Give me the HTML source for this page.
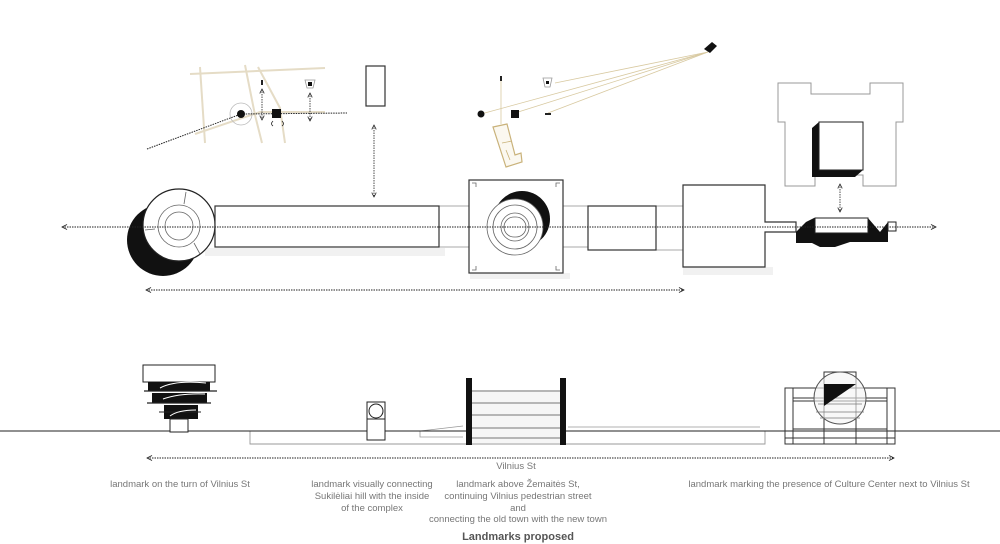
<!DOCTYPE html>
<html><head><meta charset="utf-8"><style>
html,body{margin:0;padding:0;background:#fff;}
svg{display:block;}
text{font-family:"Liberation Sans",sans-serif;fill:#777;font-size:9.5px;}
</style></head><body>
<svg width="1000" height="544" viewBox="0 0 1000 544" xmlns="http://www.w3.org/2000/svg">
<defs>
<marker id="a" viewBox="0 0 10 10" refX="9" refY="5" markerWidth="7" markerHeight="7" orient="auto-start-reverse"><path d="M1 1 L9 5 L1 9" fill="none" stroke="#222" stroke-width="1.4"/></marker>
</defs>

<!-- top-left map sketch -->
<g stroke="#e5dcc6" stroke-width="2" fill="none">
<path d="M190 74 L325 68"/><path d="M200 67 L205 143"/><path d="M245 65 L255 115 L262 143"/>
<path d="M258 67 L280 108 L285 143"/><path d="M195 134 L260 112 L325 112"/>
</g>
<circle cx="241" cy="114" r="11" fill="none" stroke="#bbb" stroke-width="0.8"/>
<path d="M147 149 L241 114 L347 113" stroke="#222" stroke-width="1" stroke-dasharray="1.5 1" fill="none"/>
<circle cx="241" cy="114" r="4" fill="#111"/>
<rect x="272" y="109" width="9" height="9" fill="#111"/>
<path d="M262 80 L262 85" stroke="#222" stroke-width="2"/>
<path d="M262 89 L262 120" stroke="#222" stroke-width="0.8" stroke-dasharray="1.5 1" marker-start="url(#a)" marker-end="url(#a)"/>
<path d="M310 93 L310 121" stroke="#222" stroke-width="0.8" stroke-dasharray="1.5 1" marker-start="url(#a)" marker-end="url(#a)"/>
<path d="M305 80 L315 80 L313 88 L307 88 Z" fill="#fff" stroke="#999" stroke-width="0.8"/>
<rect x="308" y="82" width="4" height="4" fill="#111"/>
<path d="M273 121 Q270 124 273 126 M282 121 Q285 124 282 126" stroke="#222" fill="none" stroke-width="0.8"/>
<rect x="366" y="66" width="19" height="40" fill="#fff" stroke="#333" stroke-width="1.2"/>

<!-- top-middle sightlines -->
<g stroke="#d8c9a0" stroke-width="0.8" fill="none">
<path d="M481 114 L708 52"/><path d="M515 113 L708 52"/><path d="M548 113 L708 52"/><path d="M555 83 L708 52"/>
<path d="M501 80 L501 124"/>
</g>
<path d="M704 49 L712 42 L717 46 L710 53 Z" fill="#111"/>
<path d="M501 76 L501 81" stroke="#222" stroke-width="2"/>
<circle cx="481" cy="114" r="3.5" fill="#111"/>
<rect x="511" y="110" width="8" height="8" fill="#111"/>
<path d="M545 114 L551 114" stroke="#222" stroke-width="2"/>
<path d="M543 78 L552 78 L550 87 L545 87 Z" fill="#fff" stroke="#999" stroke-width="0.8"/>
<rect x="546" y="81" width="3" height="3" fill="#111"/>
<path d="M493 127 L507 124 L515 155 L521 153 L522 162 L506 167 Z" fill="#fbf8f0" stroke="#c9b27a" stroke-width="1.2"/>
<path d="M502 143 L512 141 M506 150 L510 160" stroke="#c9b27a" stroke-width="0.8"/>

<!-- right building plan -->
<path d="M778 83 L811 83 L811 94 L870 94 L870 83 L903 83 L903 122 L896 122 L896 186 L863 186 L863 175 L815 175 L815 186 L785 186 L785 122 L778 122 Z" fill="#fff" stroke="#999" stroke-width="1"/>
<path d="M819 122 L812 128 L812 177 L855 177 L863 170 L863 122 Z" fill="#111"/>
<rect x="819" y="122" width="44" height="48" fill="#fff" stroke="#222" stroke-width="1"/>
<path d="M840 184 L840 212" stroke="#222" stroke-width="0.8" stroke-dasharray="1.5 1" marker-start="url(#a)" marker-end="url(#a)"/>
<path d="M374 125 L374 197" stroke="#222" stroke-width="0.8" stroke-dasharray="1.5 1" marker-start="url(#a)" marker-end="url(#a)"/>

<!-- plan row -->
<g fill="#f1f1f1"><rect x="205" y="248" width="240" height="8"/><rect x="470" y="273" width="100" height="6"/><rect x="683" y="267" width="90" height="8"/></g>
<path d="M439 206 L469 206 M439 247 L469 247 M563 206 L588 206 M563 247 L588 247 M656 206 L683 206 M656 250 L683 250" stroke="#aaa" stroke-width="1"/>
<circle cx="163" cy="240" r="36" fill="#111"/>
<circle cx="179" cy="225" r="36" fill="#fff" stroke="#222" stroke-width="1.2"/>
<circle cx="179" cy="226" r="21" fill="none" stroke="#666" stroke-width="0.8"/>
<circle cx="179" cy="226" r="14" fill="none" stroke="#666" stroke-width="0.8"/>
<path d="M186 192 L184 204 M155 229 L145 230 M194 243 L200 254" stroke="#666" stroke-width="0.8"/>
<rect x="215" y="206" width="224" height="41" fill="#fff" stroke="#333" stroke-width="1.2"/>
<rect x="469" y="180" width="94" height="93" fill="#fff" stroke="#333" stroke-width="1.2"/>
<path d="M472 183 h4 v4 M560 183 h-4 v4 M472 270 h4 v-4 M560 270 h-4 v-4" stroke="#666" fill="none" stroke-width="0.8"/>
<circle cx="522" cy="219" r="28" fill="#111"/>
<circle cx="515" cy="227" r="28" fill="#fff" stroke="#666" stroke-width="0.8"/>
<circle cx="515" cy="227" r="22" fill="none" stroke="#666" stroke-width="0.8"/>
<circle cx="515" cy="227" r="14" fill="none" stroke="#666" stroke-width="0.8"/>
<rect x="504" y="217" width="22" height="20" rx="10" fill="none" stroke="#666" stroke-width="0.8"/>
<rect x="588" y="206" width="68" height="44" fill="#fff" stroke="#333" stroke-width="1.2"/>
<path d="M683 185 L765 185 L765 222 L796 222 L796 232 L765 232 L765 267 L683 267 Z" fill="#fff" stroke="#333" stroke-width="1.2"/>
<path d="M796 232 L806 222 L814 218 L868 218 L880 232 L888 222 L888 242 L850 242 L835 247 L820 247 L812 243 L796 243 Z" fill="#111"/>
<rect x="815" y="218" width="53" height="15" fill="#fff" stroke="#222" stroke-width="1"/>
<rect x="888" y="222" width="8" height="9" fill="#fff" stroke="#222" stroke-width="1"/>
<path d="M62 227 L936 227" stroke="#222" stroke-width="0.9" stroke-dasharray="1.5 1" marker-start="url(#a)" marker-end="url(#a)"/>
<path d="M146 290 L684 290" stroke="#222" stroke-width="0.9" stroke-dasharray="1.5 1" marker-start="url(#a)" marker-end="url(#a)"/>

<!-- section -->
<path d="M250 431 L250 444 L765 444 L765 431" fill="none" stroke="#999" stroke-width="0.9"/>
<path d="M420 431 L420 437 L463 437 M420 431 L463 426 M568 427 L760 427" fill="none" stroke="#999" stroke-width="0.8"/>
<path d="M0 431 L1000 431" stroke="#222" stroke-width="1"/>
<rect x="143" y="365" width="72" height="17" fill="#fff" stroke="#222" stroke-width="1"/>
<rect x="148" y="382" width="62" height="9" fill="#111"/>
<path d="M144 391 L217 391" stroke="#222" stroke-width="1.2"/>
<rect x="152" y="393" width="55" height="10" fill="#111"/>
<path d="M147 403 L211 403" stroke="#222" stroke-width="1.2"/>
<rect x="164" y="405" width="34" height="14" fill="#111"/>
<path d="M159 412 L201 412" stroke="#222" stroke-width="1"/>
<path d="M160 388 Q175 380 206 383 M163 399 Q180 393 205 394 M170 416 Q178 410 196 410" stroke="#fff" stroke-width="1" fill="none"/>
<rect x="170" y="419" width="18" height="13" fill="#fff" stroke="#222" stroke-width="1"/>
<rect x="367" y="402" width="18" height="38" fill="#fff" stroke="#222" stroke-width="1"/>
<path d="M367 419 L385 419" stroke="#222" stroke-width="1"/>
<circle cx="376" cy="411" r="7" fill="#fff" stroke="#222" stroke-width="1"/>
<rect x="469" y="390" width="92" height="53" fill="#f6f6f6"/>
<g stroke="#777" stroke-width="1"><path d="M469 391 L561 391 M469 403 L561 403 M469 415 L561 415 M469 428 L561 428 M469 438 L561 438"/></g>
<rect x="466" y="378" width="6" height="67" fill="#111"/>
<rect x="560" y="378" width="6" height="67" fill="#111"/>
<g fill="none" stroke="#333" stroke-width="1">
<rect x="785" y="388" width="110" height="56"/>
<rect x="785" y="388" width="8" height="56"/><rect x="887" y="388" width="8" height="56"/>
<rect x="824" y="372" width="32" height="72"/>
<path d="M793 398 L887 398 M793 401 L887 401 M793 429 L887 429 M785 438 L895 438"/>
</g>
<circle cx="840" cy="398" r="26" fill="#f4f4f4" fill-opacity="0.6" stroke="#555" stroke-width="1"/>
<path d="M818 404 L862 404 M816 412 L864 412 M820 418 L860 418" stroke="#777" stroke-width="0.8"/>
<path d="M824 384 L856 384 L824 406 Z" fill="#111"/>
<path d="M147 458 L894 458" stroke="#222" stroke-width="0.9" stroke-dasharray="1.5 1" marker-start="url(#a)" marker-end="url(#a)"/>

<text x="516" y="469" text-anchor="middle">Vilnius St</text>
<text x="180" y="487" text-anchor="middle">landmark on the turn of Vilnius St</text>
<text x="372" y="487" text-anchor="middle">landmark visually connecting</text>
<text x="372" y="499" text-anchor="middle">Sukilėliai hill with the inside</text>
<text x="372" y="511" text-anchor="middle">of the complex</text>
<text x="518" y="487" text-anchor="middle">landmark above Žemaitės St,</text>
<text x="518" y="499" text-anchor="middle">continuing Vilnius pedestrian street</text>
<text x="518" y="511" text-anchor="middle">and</text>
<text x="518" y="522" text-anchor="middle">connecting the old town with the new town</text>
<text x="829" y="487" text-anchor="middle">landmark marking the presence of Culture Center next to Vilnius St</text>
<text x="518" y="540" text-anchor="middle" style="font-size:11px;font-weight:bold;fill:#555">Landmarks proposed</text>
</svg>
</body></html>
